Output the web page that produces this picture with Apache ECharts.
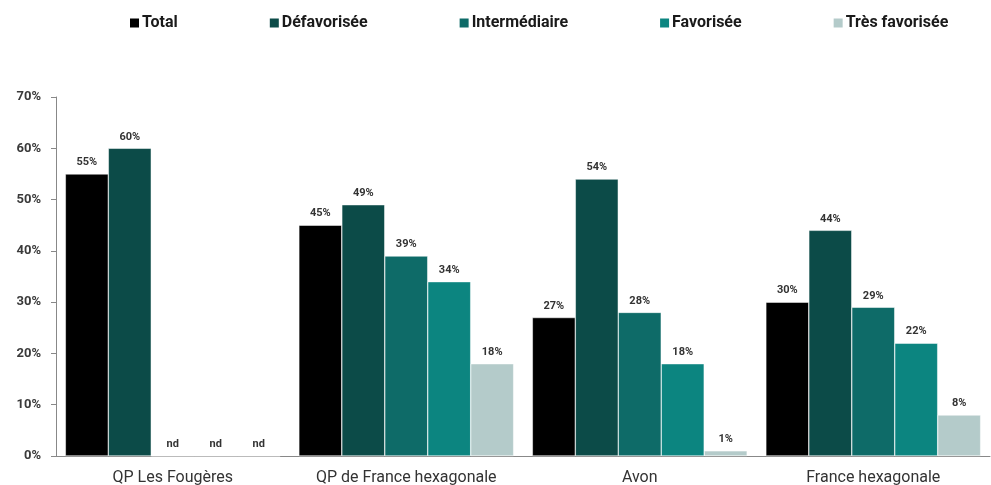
<!DOCTYPE html>
<html><head><meta charset="utf-8">
<script src="https://cdn.jsdelivr.net/npm/echarts@6/dist/echarts.min.js"></script>
<style>html,body{margin:0;padding:0;background:#fff}#c{width:991px;height:485px}</style>
</head><body><div id="c"></div>
<script>
const categories = ['QP Les Fougères', 'QP de France hexagonale', 'Avon', 'France hexagonale'];
const seriesNames = ['Total', 'Défavorisée', 'Intermédiaire', 'Favorisée', 'Très favorisée'];
const total = [55, 45, 27, 30];
const defavorisee = [60, 49, 54, 44];
const intermediaire = [null, 39, 28, 29];
const favorisee = [null, 34, 18, 22];
const tresFavorisee = [null, 18, 1, 8];
const yTicks = [0, 10, 20, 30, 40, 50, 60, 70];
const colors = ['#000000', '#0c4b48', '#0e6b68', '#0c8580', '#b4cbca'];
const allValues = [total, defavorisee, intermediaire, favorisee, tresFavorisee];

const chart = echarts.init(document.getElementById('c'));
chart.setOption({
  animation: false,
  color: colors,
  textStyle: { fontFamily: 'Roboto' },
  legend: {
    top: 10, left: 123,
    itemWidth: 11, itemHeight: 11, itemGap: 90,
    icon: 'rect',
    textStyle: { fontSize: 16, fontWeight: 'bold', color: '#1a1a1a', padding: [0, 0, 0, -3] },
    data: seriesNames
  },
  grid: { left: 56, right: 1, top: 97, bottom: 29, containLabel: false, outerBoundsMode: 'none' },
  xAxis: {
    type: 'category', data: categories,
    axisLine: { lineStyle: { color: '#888' } },
    axisTick: { lineStyle: { color: '#888' }, length: 5 },
    axisLabel: { fontSize: 16, color: '#333', margin: 14, interval: 0 }
  },
  yAxis: {
    type: 'value', min: 0, max: 70, interval: 10,
    axisLine: { show: true, lineStyle: { color: '#888' } },
    axisTick: { show: true, length: 5, lineStyle: { color: '#888' } },
    splitLine: { show: false },
    axisLabel: { fontSize: 13, fontWeight: 'bold', color: '#3a3a3a', margin: 15,
      formatter: v => yTicks.includes(v) ? v + '%' : '' }
  },
  series: seriesNames.map((name, i) => ({
    name, type: 'bar', barGap: '0%', barCategoryGap: '8%',
    itemStyle: { color: colors[i], borderColor: '#ffffff', borderWidth: 0.5 },
    data: allValues[i].map(v => v === null ? { value: 0, nd: true } : v),
    label: {
      show: true, position: 'top', distance: 6,
      fontSize: 11, fontWeight: 'bold', color: '#333',
      formatter: p => (p.data && p.data.nd) ? 'nd' : p.value + '%'
    }
  }))
});
</script></body></html>
